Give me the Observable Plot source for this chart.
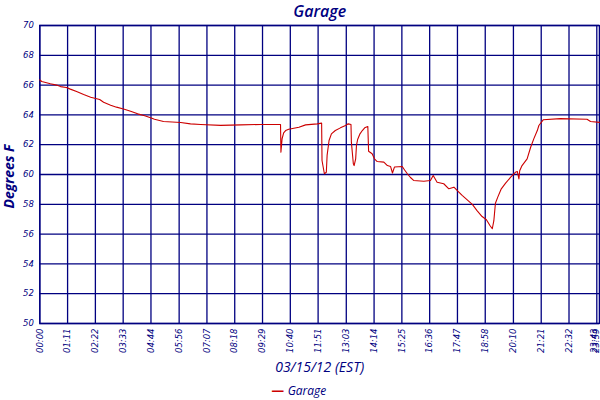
<!DOCTYPE html>
<html>
<head>
<meta charset="utf-8">
<script src="https://cdn.jsdelivr.net/npm/d3@7"></script>
<script src="https://cdn.jsdelivr.net/npm/@observablehq/plot@0.6"></script>
<style>
  html, body { margin: 0; padding: 0; background: #fff; }
</style>
</head>
<body>
<div id="chart"></div>
<script>
// Time of reading (minutes since midnight) and temperature (°F)
const minutes = [0,5,27,43,53,68,78,94,112,130,153,163,181,196,216,232,250,268,283,293,316,360,385,411,462,513,564,615,616,619,623,628,636,662,679,709,720,721,727,732,734,739,745,755,768,781,788,795,796,801,803,807,809,812,818,824,830,838,840,849,855,862,879,888,896,901,906,926,932,939,947,955,981,998,1005,1015,1032,1045,1058,1068,1079,1092,1105,1117,1130,1141,1150,1156,1160,1164,1170,1179,1190,1203,1215,1220,1224,1226,1232,1245,1254,1262,1271,1275,1286,1330,1398,1407,1439];
const garage = [66.35,66.24,66.09,66.0,65.9,65.84,65.73,65.57,65.37,65.19,65.03,64.85,64.65,64.52,64.38,64.25,64.07,63.94,63.81,63.71,63.56,63.49,63.4,63.36,63.3,63.33,63.36,63.36,61.5,62.4,62.8,62.95,63.04,63.17,63.33,63.4,63.45,60.94,60.05,60.15,61.28,62.28,62.73,62.95,63.13,63.29,63.4,63.36,62.17,60.72,60.6,61.05,61.95,62.35,62.73,62.95,63.13,63.22,61.56,61.39,61.05,60.87,60.83,60.6,60.54,60.1,60.5,60.54,60.3,60.05,59.8,59.6,59.55,59.6,59.93,59.48,59.38,59.04,59.15,58.88,58.6,58.3,57.99,57.58,57.18,56.96,56.58,56.36,56.9,58.07,58.48,59.04,59.42,59.82,60.15,60.2,59.7,60.25,60.6,61.05,61.83,62.39,62.95,63.29,63.67,63.75,63.71,63.56,63.5];

const xTickLabels = ["00:00","01:11","02:22","03:33","04:44","05:56","07:07","08:18","09:29","10:40","11:51","13:03","14:14","15:25","16:36","17:47","18:58","20:10","21:21","22:32","23:43","23:59"];
const yTicks = [50,52,54,56,58,60,62,64,66,68,70];

const title = "Garage";
const xLabel = "03/15/12 (EST)";
const yLabel = "Degrees F";
const seriesName = "Garage";

const toMin = s => { const [h, m] = s.split(":").map(Number); return h * 60 + m; };
const xTicks = xTickLabels.map(toMin);
const labelOf = new Map(xTicks.map((v, i) => [v, xTickLabels[i]]));
const mainTicks = xTicks.slice(0, -2);
const penultTick = xTicks.slice(-2, -1);
const lastTick = xTicks.slice(-1);
const data = minutes.map((m, i) => ({minute: m, temp: garage[i]}));

const navy = "#000080";
const red = "#cc0000";
const sans = "'Open Sans', 'DejaVu Sans', sans-serif";
const tickFont = {fill: navy, fontStyle: "italic", fontSize: 8.5, fontFamily: "'DejaVu Sans', sans-serif"};
const xAxisOpts = {tickFormat: d => labelOf.get(d), tickRotate: -90, tickSize: 0, tickPadding: 5, label: null, ...tickFont};

const chart = Plot.plot({
  width: 600,
  height: 400,
  marginTop: 25,
  marginBottom: 77,
  marginLeft: 39.3,
  marginRight: 1,
  style: {fontFamily: "'DejaVu Sans', sans-serif", fontSize: "8.5px", color: navy, background: "#fff"},
  x: {type: "linear", domain: [0, 1423, 1439], range: [39.3, 596.3, 599]},
  y: {type: "linear", domain: [50, 70]},
  marks: [
    Plot.gridX(xTicks, {stroke: navy, strokeOpacity: 1, strokeWidth: 1.3}),
    Plot.gridY(yTicks, {stroke: navy, strokeOpacity: 1, strokeWidth: 1.3}),
    Plot.frame({stroke: navy, strokeWidth: 1.3}),
    Plot.line(data, {x: "minute", y: "temp", curve: "linear", stroke: red, strokeWidth: 1.1}),
    Plot.axisX(mainTicks, xAxisOpts),
    Plot.axisX(penultTick, {...xAxisOpts, dx: -2.5}),
    Plot.axisX(lastTick, {...xAxisOpts, dx: -3.5}),
    Plot.axisY(yTicks, {tickSize: 0, tickPadding: 6, label: null, ...tickFont}),
    Plot.text([title], {frameAnchor: "top", lineAnchor: "bottom", dy: -9, fill: navy, fontSize: 16, fontStyle: "italic", fontFamily: sans, fontWeight: 600}),
    Plot.text([xLabel], {frameAnchor: "bottom", lineAnchor: "bottom", dy: 48, fill: navy, fontSize: 14, fontStyle: "italic", fontFamily: sans}),
    Plot.text([yLabel], {frameAnchor: "left", rotate: -90, lineAnchor: "middle", dx: -30, dy: 34, fill: navy, fontSize: 14, fontStyle: "italic", fontWeight: "bold", fontFamily: sans}),
    Plot.text(["\u2014"], {frameAnchor: "bottom", lineAnchor: "middle", textAnchor: "middle", dx: -42, dy: 67, fill: red, fontSize: 13, fontWeight: "bold", fontFamily: "'DejaVu Sans', sans-serif"}),
    Plot.text([seriesName], {frameAnchor: "bottom", lineAnchor: "bottom", textAnchor: "start", dx: -32, dy: 71, fill: navy, fontSize: 12, fontStyle: "italic", fontFamily: sans})
  ]
});
document.getElementById("chart").append(chart);
</script>
</body>
</html>
